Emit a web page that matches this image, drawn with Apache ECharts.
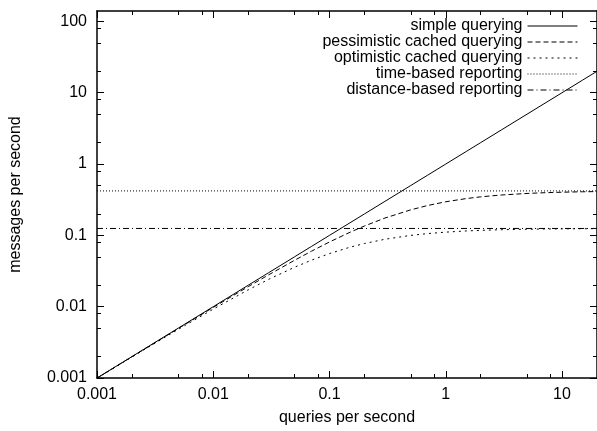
<!DOCTYPE html>
<html lang="en">
<head>
<meta charset="utf-8">
<title>messages per second</title>
<script src="https://cdn.jsdelivr.net/npm/echarts@6/dist/echarts.min.js"></script>
<style>
  html, body { margin: 0; padding: 0; background: #fff; }
  #chart { width: 597px; height: 431px; }
</style>
</head>
<body>
<div id="chart"></div>
<script>
// query rates (x axis)
var queries = [0.001, 0.002, 0.005, 0.01, 0.02, 0.03, 0.05, 0.07, 0.1, 0.15, 0.2, 0.3,
  0.5, 0.7, 1, 1.5, 2, 3, 5, 7, 10, 15, 20];

// messages per second
var simpleQuerying = [0.001, 0.002, 0.005, 0.01, 0.02, 0.03, 0.05, 0.07, 0.1, 0.15, 0.2, 0.3,
  0.5, 0.7, 1, 1.5, 2, 3, 5, 7, 10, 15, 20];
var pessimisticCached = [0.000998, 0.00199, 0.00494, 0.00977, 0.0191, 0.028, 0.0447, 0.06, 0.0808,
  0.1105, 0.1355, 0.175, 0.228, 0.2625, 0.296, 0.328, 0.347, 0.368, 0.387, 0.396, 0.403, 0.4086, 0.411];
var optimisticCached = [0.000992, 0.00197, 0.00481, 0.00926, 0.01724, 0.0242, 0.0357, 0.0449, 0.0556,
  0.0682, 0.0769, 0.0882, 0.1, 0.106, 0.111, 0.1154, 0.1176, 0.12, 0.122, 0.1228, 0.1235, 0.124, 0.1242];
var timeBased = [0.42, 0.42];
var distanceBased = [0.125, 0.125];
var flatX = [0.001, 20];

var seriesNames = ['simple querying', 'pessimistic cached querying', 'optimistic cached querying',
  'time-based reporting', 'distance-based reporting'];

// tick positions
var xMajor = [0.001, 0.01, 0.1, 1, 10];
var xMinor = [0.002, 0.005, 0.008, 0.02, 0.05, 0.08, 0.2, 0.5, 0.8, 2, 5, 8];
var yMajor = [0.001, 0.01, 0.1, 1, 10, 100];
var yMinor = [0.002, 0.005, 0.008, 0.02, 0.05, 0.08, 0.2, 0.5, 0.8, 2, 5, 8, 20, 50, 80];

var font = '"Liberation Sans", Arial, Helvetica, sans-serif';

function pairs(xs, ys) {
  var out = [];
  for (var i = 0; i < ys.length; i++) out.push([xs[i], ys[i]]);
  return out;
}
function fmt(v) { return String(+Number(v).toPrecision(3)); }

function xAxis(pos, ticks, len, main) {
  return {
    type: 'log', logBase: 10, min: 0.001, max: 20, position: pos,
    axisLine: { show: main, lineStyle: { color: '#000', width: 1.5 } },
    axisTick: { show: true, inside: true, length: len, customValues: ticks,
      lineStyle: { color: '#000', width: 1 } },
    axisLabel: main && pos === 'bottom'
      ? { show: true, customValues: xMajor, margin: 9, color: '#000', fontSize: 16, fontFamily: font, formatter: fmt }
      : { show: false },
    splitLine: { show: false }, minorTick: { show: false }
  };
}
function yAxis(pos, ticks, len, main) {
  return {
    type: 'log', logBase: 10, min: 0.001, max: 140, position: pos,
    axisLine: { show: main, lineStyle: { color: '#000', width: 1.5 } },
    axisTick: { show: true, inside: true, length: len, customValues: ticks,
      lineStyle: { color: '#000', width: 1 } },
    axisLabel: main && pos === 'left'
      ? { show: true, customValues: yMajor, margin: 10, color: '#000', fontSize: 16, fontFamily: font, formatter: fmt }
      : { show: false },
    splitLine: { show: false }, minorTick: { show: false }
  };
}

var xAxes = [
  xAxis('bottom', xMajor, 7, true),
  xAxis('bottom', xMinor, 4, false),
  xAxis('top', xMajor, 7, true),
  xAxis('top', xMinor, 4, false)
];
xAxes[0].name = 'queries per second';
xAxes[0].nameLocation = 'middle';
xAxes[0].nameGap = 32;
xAxes[0].nameTextStyle = { color: '#000', fontSize: 16, fontFamily: font };

var yAxes = [
  yAxis('left', yMajor, 7, true),
  yAxis('left', yMinor, 4, false),
  yAxis('right', yMajor, 7, true),
  yAxis('right', yMinor, 4, false)
];
yAxes[0].name = 'messages per second';
yAxes[0].nameLocation = 'middle';
yAxes[0].nameGap = 73;
yAxes[0].nameTextStyle = { color: '#000', fontSize: 16, fontFamily: font };

function line(name, data, dash) {
  return {
    name: name, type: 'line', data: data, symbol: 'none', smooth: false,
    lineStyle: { color: '#000', width: 1, type: dash },
    itemStyle: { color: '#000' },
    emphasis: { disabled: true }
  };
}

var chart = echarts.init(document.getElementById('chart'), null, { renderer: 'canvas' });
chart.setOption({
  animation: false,
  backgroundColor: '#fff',
  grid: { left: 91, top: 11, width: 507, height: 370, containLabel: false },
  legend: {
    data: seriesNames,
    orient: 'vertical', align: 'right',
    right: 19, top: 18, padding: 0,
    itemWidth: 50, itemHeight: 16, itemGap: 0,
    selectedMode: false,
    itemStyle: { opacity: 0, borderWidth: 0 },
    lineStyle: { width: 1 },
    textStyle: { color: '#000', fontSize: 16, fontFamily: font, lineHeight: 16 }
  },
  xAxis: xAxes,
  yAxis: yAxes,
  series: [
    line(seriesNames[0], pairs(queries, simpleQuerying), 'solid'),
    line(seriesNames[1], pairs(queries, pessimisticCached), [5, 3]),
    line(seriesNames[2], pairs(queries, optimisticCached), [2, 4]),
    line(seriesNames[3], pairs(flatX, timeBased), [1, 2]),
    line(seriesNames[4], pairs(flatX, distanceBased), [6, 3, 1, 3])
  ]
});
</script>
</body>
</html>
